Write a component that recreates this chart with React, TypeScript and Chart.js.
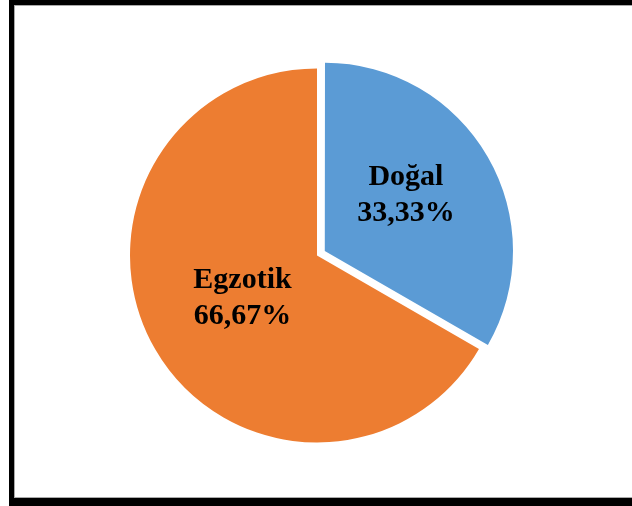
import React, { useEffect, useRef } from "react";
import { Chart, registerables } from "chart.js";

Chart.register(...registerables);

const categories = ["Doğal", "Egzotik"];
const values = [33.33, 66.67];
const valueLabels = ["33,33%", "66,67%"];
const colors = ["#5B9BD5", "#ED7D31"];
// Chart.js moves an arc by offset / 4 pixels
const offsets = [36, 0];

// label placement: fraction of radius from pie centre, angle nudge (degrees)
const labelRadius = [0.575, 0.46];
const labelAngleShift = [-4.2, 0];

const labelPlugin = {
  id: "sliceLabels",
  afterDatasetsDraw(chart: any) {
    const ctx = chart.ctx;
    const meta = chart.getDatasetMeta(0);
    ctx.save();
    ctx.fillStyle = "#000";
    ctx.font = "bold 30px 'Liberation Serif', 'Times New Roman', serif";
    ctx.textAlign = "center";
    ctx.textBaseline = "middle";
    meta.data.forEach((arc: any, i: number) => {
      const { x, y, startAngle, endAngle, outerRadius } = arc.getProps(
        ["x", "y", "startAngle", "endAngle", "outerRadius"],
        true
      );
      const a = (startAngle + endAngle) / 2 + (labelAngleShift[i] * Math.PI) / 180;
      const d = outerRadius * labelRadius[i];
      const cx = x + Math.cos(a) * d;
      const cy = y + Math.sin(a) * d;
      ctx.fillText(categories[i], cx, cy - 18);
      ctx.fillText(valueLabels[i], cx, cy + 18);
    });
    ctx.restore();
  },
};

export default function App() {
  const ref = useRef<HTMLCanvasElement | null>(null);

  useEffect(() => {
    if (!ref.current) return;
    const chart = new Chart(ref.current, {
      type: "pie",
      data: {
        labels: categories,
        datasets: [
          {
            data: values,
            backgroundColor: colors,
            borderWidth: 0,
            offset: offsets,
          },
        ],
      },
      options: {
        animation: false,
        responsive: false,
        maintainAspectRatio: false,
        layout: { padding: { left: 112, top: 50.5, right: 110, bottom: 45.5 } },
        plugins: {
          legend: { display: false },
          tooltip: { enabled: false },
        },
      },
      plugins: [labelPlugin],
    });
    return () => chart.destroy();
  }, []);

  return (
    <div
      style={{
        position: "fixed",
        left: 0,
        top: 0,
        width: 632,
        height: 506,
        background: "#fff",
        overflow: "hidden",
      }}
    >
      <div
        style={{
          position: "absolute",
          left: 9,
          top: 0,
          width: 640,
          height: 506,
          boxSizing: "border-box",
          borderTop: "5px solid #000",
          borderLeft: "5px solid #000",
          borderBottom: "8px solid #000",
        }}
      >
        <div
          style={{
            position: "absolute",
            left: 0,
            top: 0,
            right: 0,
            bottom: 0,
            borderTop: "1px solid #aaa",
            borderLeft: "1px solid #aaa",
            borderBottom: "1px solid #aaa",
          }}
        />
      </div>
      <canvas
        ref={ref}
        width={632}
        height={506}
        style={{ position: "absolute", left: 0, top: 0 }}
      />
    </div>
  );
}
